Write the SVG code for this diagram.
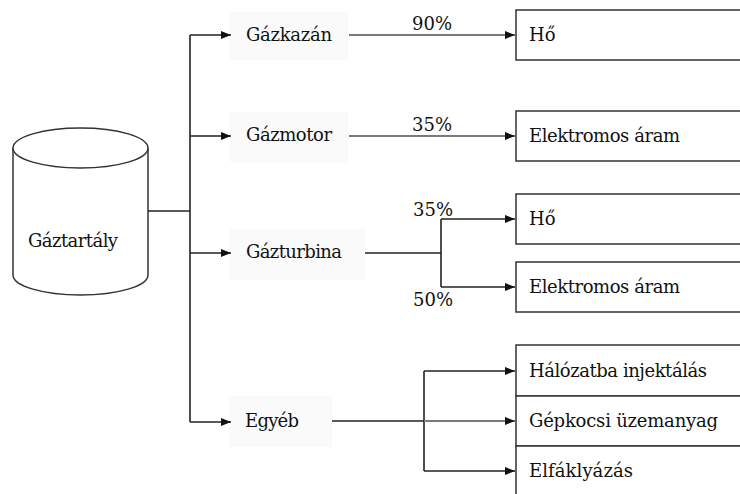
<svg xmlns="http://www.w3.org/2000/svg" width="740" height="494" viewBox="0 0 740 494">
<defs>
<style>
text{font-family:'DejaVu Serif','Liberation Serif',serif;fill:#111}
.t{font-size:18px}
.p{font-size:18px}
.bx{fill:#fff;stroke:#333;stroke-width:1.5}
.lb{fill:#fafafa;stroke:none}
.k{fill:none;stroke:#222;stroke-width:1.6}
.g{fill:none;stroke:#7a7a7a;stroke-width:2}
</style>
<marker id="ah" markerWidth="10" markerHeight="8" refX="10" refY="4" orient="auto" markerUnits="userSpaceOnUse">
<path d="M0,0 L10,4 L0,8 Z" fill="#111"/>
</marker>
</defs>
<rect width="740" height="494" fill="#fff"/>

<g id="tank">
<path d="M13,148 L13,275 A67.5,20 0 0 0 148,275 L148,148" fill="#fff" stroke="#333" stroke-width="1.5"/>
<ellipse cx="80.5" cy="148" rx="67.5" ry="20" fill="#fff" stroke="#333" stroke-width="1.5"/>
<text class="t" x="28" y="247" textLength="90">Gáztartály</text>
</g>

<g id="gazkazan">
<rect class="lb" x="230" y="12" width="118" height="48"/>
<text class="t" x="246" y="41" textLength="86">Gázkazán</text>
</g>
<g id="gazmotor">
<rect class="lb" x="230" y="112" width="118" height="50"/>
<text class="t" x="246" y="141" textLength="86">Gázmotor</text>
</g>
<g id="gazturbina">
<rect class="lb" x="230" y="229" width="136" height="51"/>
<text class="t" x="246" y="258" textLength="96">Gázturbina</text>
</g>
<g id="egyeb">
<rect class="lb" x="229" y="396" width="103" height="51"/>
<text class="t" x="245" y="427" textLength="54">Egyéb</text>
</g>

<g id="ho1">
<rect class="bx" x="516" y="10" width="240" height="50"/>
<text class="t" x="529" y="41">Hő</text>
</g>
<g id="elektromos1">
<rect class="bx" x="516" y="111" width="240" height="50"/>
<text class="t" x="529" y="142" textLength="151">Elektromos áram</text>
</g>
<g id="ho2">
<rect class="bx" x="516" y="194" width="240" height="50"/>
<text class="t" x="529" y="225">Hő</text>
</g>
<g id="elektromos2">
<rect class="bx" x="516" y="262" width="240" height="50"/>
<text class="t" x="529" y="293" textLength="151">Elektromos áram</text>
</g>
<g id="halozat">
<rect class="bx" x="516" y="345" width="240" height="51"/>
<text class="t" x="529" y="377" textLength="178">Hálózatba injektálás</text>
</g>
<g id="gepkocsi">
<rect class="bx" x="516" y="396" width="240" height="50"/>
<text class="t" x="529" y="427" textLength="189">Gépkocsi üzemanyag</text>
</g>
<g id="faklya">
<rect class="bx" x="516" y="446" width="240" height="60"/>
<text class="t" x="529" y="477" textLength="104">Elfáklyázás</text>
</g>

<g id="connectors">
<path class="k" d="M148,211 H190"/>
<path class="k" d="M190,35 V422"/>
<path class="k" d="M190,35 H231" marker-end="url(#ah)"/>
<path class="k" d="M190,136 H231" marker-end="url(#ah)"/>
<path class="k" d="M190,253 H231" marker-end="url(#ah)"/>
<path class="k" d="M190,422 H231" marker-end="url(#ah)"/>
<path class="g" d="M349,35 H515" marker-end="url(#ah)"/>
<path class="g" d="M349,136 H515" marker-end="url(#ah)"/>
<path class="k" d="M365,253 H441"/>
<path class="k" d="M441,219 V287"/>
<path class="k" d="M441,219 H515" marker-end="url(#ah)"/>
<path class="k" d="M441,287 H515" marker-end="url(#ah)"/>
<path class="k" d="M332,421 H424"/>
<path class="k" d="M424,371 V471"/>
<path class="k" d="M424,371 H515" marker-end="url(#ah)"/>
<path class="g" d="M424,421 H515" marker-end="url(#ah)"/>
<path class="k" d="M424,471 H515" marker-end="url(#ah)"/>
<text class="p" x="412" y="30" textLength="40">90%</text>
<text class="p" x="412" y="131" textLength="40">35%</text>
<text class="p" x="413" y="216" textLength="40">35%</text>
<text class="p" x="413" y="306" textLength="40">50%</text>
</g>
</svg>
